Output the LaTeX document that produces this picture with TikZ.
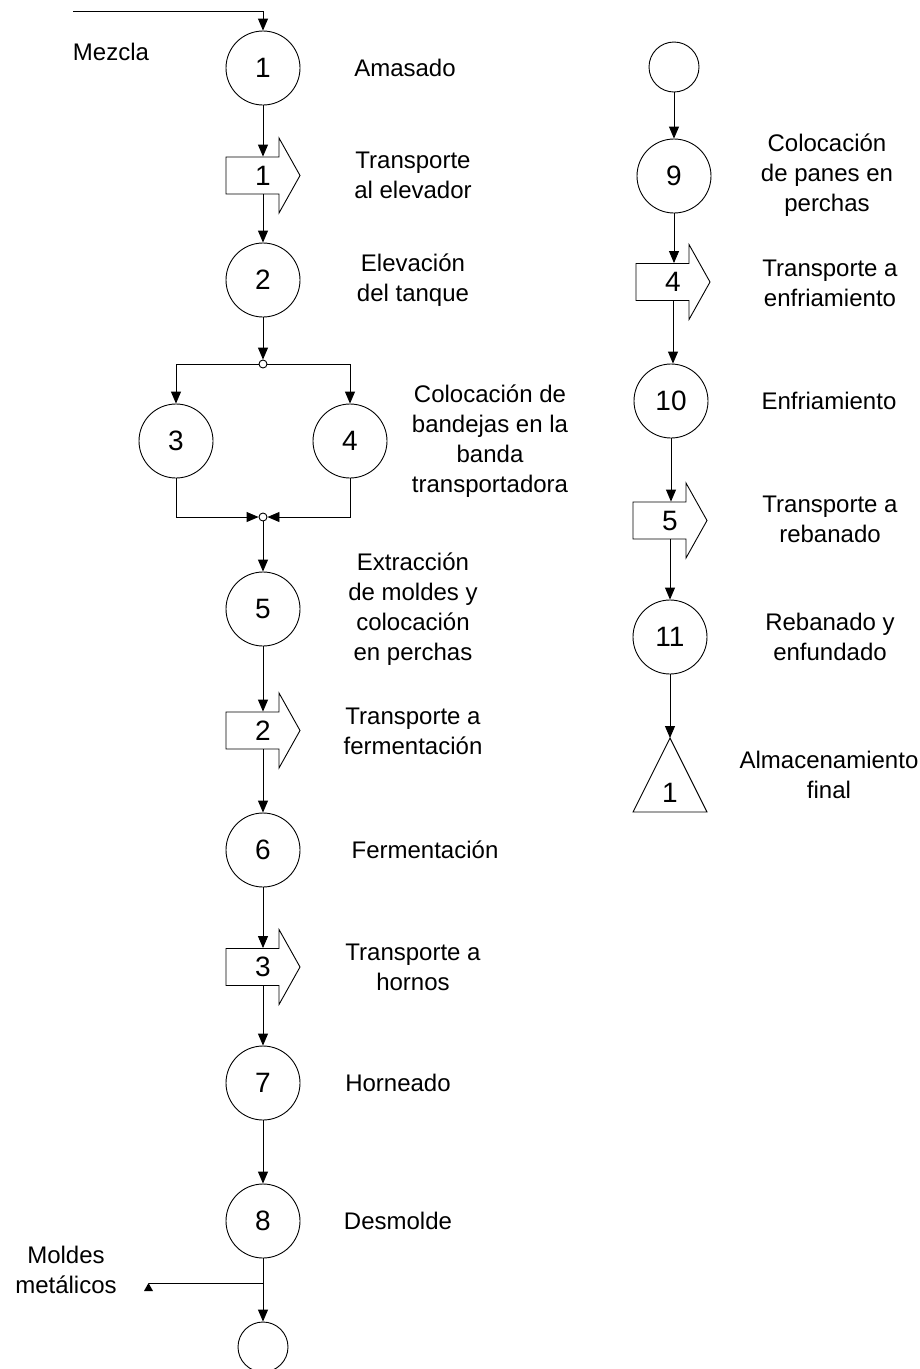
\documentclass[tikz,border=0pt]{standalone}
\usepackage{fontspec}
\setmainfont{Liberation Sans}
\usetikzlibrary{arrows.meta,calc}
\newcommand\tshape[1]{\draw ([shift={(-37,-18.5)}]#1.center) -- ++(53,0) -- ++(0,-19) -- ([shift={(37,0)}]#1.center) -- ([shift={(16,37.5)}]#1.center) -- ++(0,-19) -- ++(-53,0) -- cycle;}
\begin{document}
\begin{tikzpicture}[x=1pt,y=-1pt,
  line width=0.9pt,
  op/.style={circle,draw,minimum size=74pt,inner sep=0pt,font=\fontsize{28}{30}\selectfont},
  sop/.style={circle,draw,minimum size=50pt,inner sep=0pt},
  jn/.style={circle,draw,minimum size=8pt,inner sep=0pt,fill=white},
  lbl/.style={align=center,inner sep=0pt,font=\fontsize{24}{30}\selectfont},
  tr/.style={minimum width=74pt,minimum height=37pt,inner sep=0pt,font=\fontsize{28}{30}\selectfont},
  num/.style={inner sep=0pt,font=\fontsize{28}{30}\selectfont},
  flow/.style={-{Triangle[length=12pt,width=10pt]}},
]
\useasboundingbox (0,0) rectangle (920,1369);
% ---------- left column ----------
\node[op] (c1) at (263,68) {1};
\node[tr] (t1) at (263,175.5) {1}; \tshape{t1}
\node[op] (c2) at (263,280) {2};
\node[jn] (j1) at (263,364) {};
\node[op] (c3) at (176,441) {3};
\node[op] (c4) at (350,441) {4};
\node[jn] (j2) at (263,517) {};
\node[op] (c5) at (263,609) {5};
\node[tr] (t2) at (263,730.5) {2}; \tshape{t2}
\node[op] (c6) at (263,850) {6};
\node[tr] (t3) at (263,967) {3}; \tshape{t3}
\node[op] (c7) at (263,1083) {7};
\node[op] (c8) at (263,1221) {8};
\node[sop] (c12) at (263,1347) {};
% ---------- right column ----------
\node[sop] (c0) at (674,67) {};
\node[op] (c9) at (674,176) {9};
\node[tr] (t4) at (673,282) {4}; \tshape{t4}
\node[op] (c10) at (671,401) {10};
\node[tr] (t5) at (670,520.5) {5}; \tshape{t5}
\node[op] (c11) at (670,637) {11};
\coordinate (sa) at (670,738);
\draw (sa) -- (707,812) -- (633,812) -- cycle;
\node[num] (s1) at (670,793) {1};
% ---------- connectors ----------
\coordinate (start) at (73,11);
\draw[flow] (start) -| (c1.north);
\draw[flow] (c1.south) -- (t1.north);
\draw[flow] (t1.south) -- (c2.north);
\draw[flow] (c2.south) -- (j1.north);
\draw[flow] (j1.west) -| (c3.north);
\draw[flow] (j1.east) -| (c4.north);
\draw[flow] (c3.south) |- (j2.west);
\draw[flow] (c4.south) |- (j2.east);
\draw[flow] (j2.south) -- (c5.north);
\draw[flow] (c5.south) -- (t2.north);
\draw[flow] (t2.south) -- (c6.north);
\draw[flow] (c6.south) -- (t3.north);
\draw[flow] (t3.south) -- (c7.north);
\draw[flow] (c7.south) -- (c8.north);
\draw[flow] (c8.south) -- (c12.north);
\coordinate (br) at (263,1283);
\coordinate (mt) at (148.5,1283);
\draw (br) -- (mt);
\fill (144,1291) -- (mt) -- (153,1291) -- cycle;
\draw[flow] (c0.south) -- (c0.south |- c9.north);
\draw[flow] (c9.south) -- (c9.south |- t4.north);
\draw[flow] (t4.south) -- (t4.south |- c10.north);
\draw[flow] (c10.south) -- (c10.south |- t5.north);
\draw[flow] (t5.south) -- (t5.south |- c11.north);
\draw[flow] (c11.south) -- (sa);
% ---------- labels ----------
\node[lbl] (l0) at (111,52) {Mezcla};
\node[lbl] (l1) at (405,68) {Amasado};
\node[lbl] (l2) at (413,175) {Transporte\\al elevador};
\node[lbl] (l3) at (413,280) {Elevación\\del tanque};
\node[lbl] (l4) at (490,441) {Colocación de\\bandejas en la\\banda\\transportadora};
\node[lbl] (l5) at (413,609) {Extracción\\de moldes y\\colocación\\en perchas};
\node[lbl] (l6) at (413,731) {Transporte a\\fermentación};
\node[lbl] (l7) at (425,850) {Fermentación};
\node[lbl] (l8) at (413,967) {Transporte a\\hornos};
\node[lbl] (l9) at (398,1083) {Horneado};
\node[lbl] (l10) at (398,1221) {Desmolde};
\node[lbl] (l11) at (66,1270) {Moldes\\metálicos};
\node[lbl] (l12) at (827,175) {Colocación\\de panes en\\perchas};
\node[lbl] (l13) at (830,283) {Transporte a\\enfriamiento};
\node[lbl] (l14) at (829,401) {Enfriamiento};
\node[lbl] (l15) at (830,519) {Transporte a\\rebanado};
\node[lbl] (l16) at (830,637) {Rebanado y\\enfundado};
\node[lbl] (l17) at (829,775) {Almacenamiento\\final};
\end{tikzpicture}
\end{document}
